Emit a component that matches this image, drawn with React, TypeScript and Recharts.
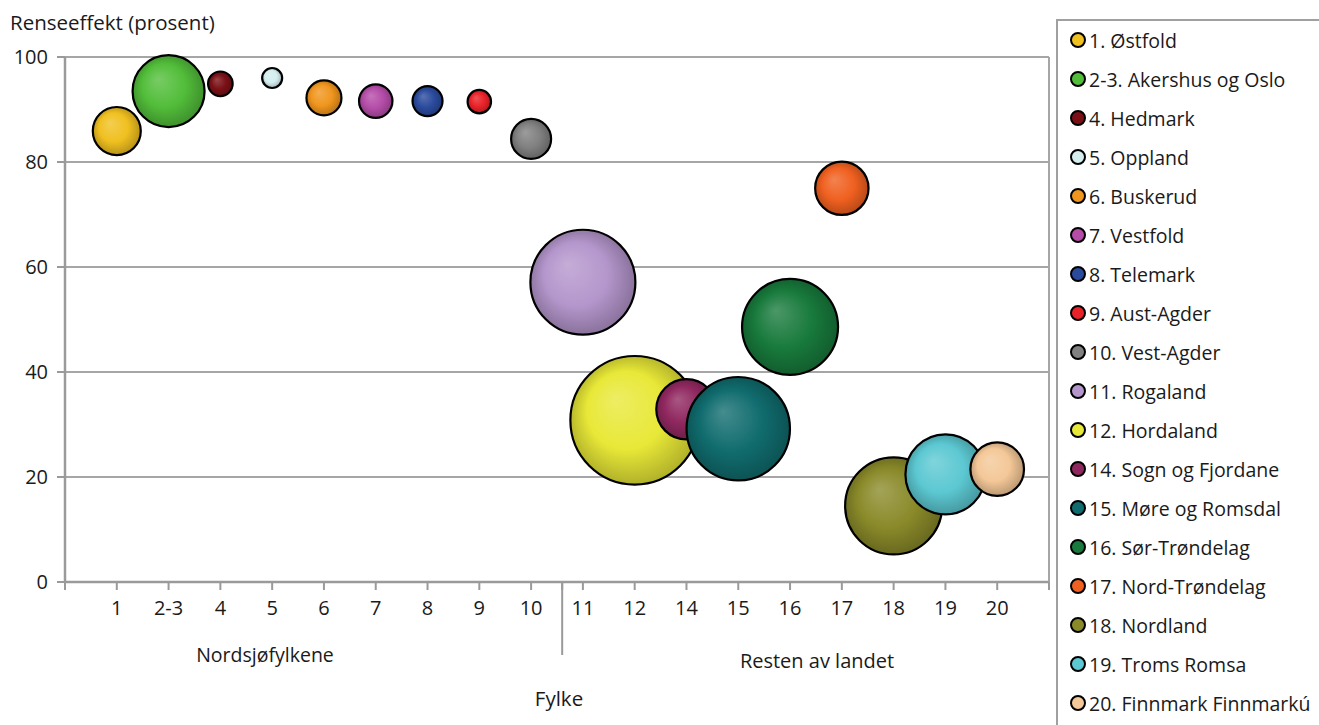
import React from 'react';
import {
  ScatterChart,
  Scatter,
  XAxis,
  YAxis,
  ZAxis,
  CartesianGrid,
  ReferenceLine,
} from 'recharts';

// --- data ---
const FYLKER = [
  '1. Østfold',
  '2-3. Akershus og Oslo',
  '4. Hedmark',
  '5. Oppland',
  '6. Buskerud',
  '7. Vestfold',
  '8. Telemark',
  '9. Aust-Agder',
  '10. Vest-Agder',
  '11. Rogaland',
  '12. Hordaland',
  '14. Sogn og Fjordane',
  '15. Møre og Romsdal',
  '16. Sør-Trøndelag',
  '17. Nord-Trøndelag',
  '18. Nordland',
  '19. Troms Romsa',
  '20. Finnmark Finnmarkú',
];
const TICK_LABELS = ['1', '2-3', '4', '5', '6', '7', '8', '9', '10', '11', '12', '14', '15', '16', '17', '18', '19', '20'];
const RENSEEFFEKT = [85.9, 93.5, 94.9, 96.0, 92.2, 91.6, 91.6, 91.5, 84.4, 57.1, 30.8, 32.9, 29.2, 48.6, 75.0, 14.5, 20.5, 21.5];
const BOBLESTORRELSE = [576, 1296, 151, 100, 306, 279, 225, 137, 400, 2756, 4134, 912, 2673, 2304, 713, 2352, 1600, 718];
const Y_TICKS = [0, 20, 40, 60, 80, 100];
const GRUPPE_SKILLE = 9.6; // skillelinje mellom Nordsjøfylkene og resten av landet
const X_TICKS = [0, 1, 2, 3, 4, 5, 6, 7, 8, 9, GRUPPE_SKILLE, 10, 11, 12, 13, 14, 15, 16, 17, 18, 19];

const FARGER = [
  '#f0c020', '#52bd3a', '#7a1016', '#d4eef0', '#f0961e', '#b44ca8',
  '#2a4a9c', '#e82228', '#808080', '#b496cc', '#e8e838', '#902860',
  '#106c6e', '#187a3c', '#f06020', '#8a8a2a', '#5cc8d2', '#f4c898',
];

const maxZ = Math.max(...BOBLESTORRELSE);

const chartData = FYLKER.map((navn, i) => ({
  navn,
  x: i + 1,
  y: RENSEEFFEKT[i],
  z: BOBLESTORRELSE[i],
}));

const mix = (hex: string, target: number, t: number) => {
  const n = parseInt(hex.slice(1), 16);
  const ch = [(n >> 16) & 255, (n >> 8) & 255, n & 255].map((c) =>
    Math.round(c + (target - c) * t)
  );
  return `rgb(${ch.join(',')})`;
};

const TEXT = '#1a1a1a';
const AXIS = '#9a9a9a';

const Boble = (props: any) => {
  const { cx, cy, width, payload } = props;
  const i = FYLKER.indexOf(payload.navn);
  return (
    <circle
      cx={cx}
      cy={cy}
      r={width / 2}
      fill={`url(#boble${i})`}
      stroke="#000"
      strokeWidth={2.2}
    />
  );
};

const XTick = (props: any) => {
  const { x, y, payload } = props;
  const v = payload.value;
  if (v === GRUPPE_SKILLE)
    return <line x1={x} x2={x} y1={y - 8} y2={y + 65} stroke={AXIS} strokeWidth={2} />;
  const label = TICK_LABELS[v - 1];
  if (!label) return null;
  return (
    <text x={x} y={y + 18} dy="0.355em" textAnchor="middle" fill={TEXT} fontSize={20}>
      {label}
    </text>
  );
};

export default function App() {
  return (
    <div
      style={{
        position: 'absolute',
        left: 0,
        top: 0,
        width: 1319,
        height: 725,
        background: '#fff',
        fontFamily: '"Open Sans", sans-serif',
        color: TEXT,
        overflow: 'hidden',
      }}
    >
      <svg width={0} height={0} style={{ position: 'absolute' }}>
        <defs>
          {FARGER.map((c, i) => (
            <radialGradient key={i} id={`boble${i}`} cx="50%" cy="50%" r="55%" fx="35%" fy="33%">
              <stop offset="0%" stopColor={mix(c, 255, 0.22)} />
              <stop offset="55%" stopColor={c} />
              <stop offset="100%" stopColor={mix(c, 0, 0.28)} />
            </radialGradient>
          ))}
        </defs>
      </svg>

      <div style={{ position: 'absolute', left: 10, top: 8, fontSize: 20.5 }}>
        Renseeffekt (prosent)
      </div>

      <ScatterChart
        width={1319}
        height={725}
        margin={{ top: 57, right: 270, left: 10, bottom: 113 }}
      >
        <CartesianGrid vertical={false} stroke="#a6a6a6" strokeWidth={2} />
        <XAxis
          type="number"
          dataKey="x"
          domain={[0, 19]}
          ticks={X_TICKS}
          interval={0}
          height={30}
          tickSize={8}
          tickMargin={0}
          axisLine={{ stroke: AXIS, strokeWidth: 2.5 }}
          tickLine={{ stroke: AXIS, strokeWidth: 2 }}
          tick={<XTick />}
        />
        <YAxis
          type="number"
          dataKey="y"
          domain={[0, 100]}
          ticks={Y_TICKS}
          width={55}
          tickSize={8}
          tickMargin={9}
          axisLine={{ stroke: AXIS, strokeWidth: 2.5 }}
          tickLine={{ stroke: AXIS, strokeWidth: 2 }}
          tick={{ fill: TEXT, fontSize: 20 }}
        />
        <ZAxis type="number" dataKey="z" domain={[0, maxZ]} range={[0, Math.PI * maxZ]} />
        <ReferenceLine x={19} stroke="#a6a6a6" strokeWidth={2} />
        <Scatter data={chartData} shape={<Boble />} isAnimationActive={false} />
      </ScatterChart>

      <div style={{ position: 'absolute', left: 265, top: 654, transform: 'translate(-50%, -50%)', fontSize: 19.5, whiteSpace: 'nowrap' }}>
        Nordsjøfylkene
      </div>
      <div style={{ position: 'absolute', left: 817, top: 660, transform: 'translate(-50%, -50%)', fontSize: 20, whiteSpace: 'nowrap' }}>
        Resten av landet
      </div>
      <div style={{ position: 'absolute', left: 559, top: 698, transform: 'translate(-50%, -50%)', fontSize: 20.5 }}>
        Fylke
      </div>

      <div
        style={{
          position: 'absolute',
          left: 1056,
          top: 19,
          width: 280,
          height: 730,
          border: '2px solid #a0a0a0',
          boxSizing: 'border-box',
        }}
      >
        {FYLKER.map((navn, i) => (
          <div
            key={navn}
            style={{
              position: 'absolute',
              left: 11,
              top: 19 + i * 39 - 20,
              height: 40,
              display: 'flex',
              alignItems: 'center',
              fontSize: 19.5,
              whiteSpace: 'nowrap',
            }}
          >
            <svg width={18} height={18} style={{ marginRight: 2 }}>
              <circle cx={9} cy={9} r={7} fill={FARGER[i]} stroke="#000" strokeWidth={2} />
            </svg>
            {navn}
          </div>
        ))}
      </div>
    </div>
  );
}
